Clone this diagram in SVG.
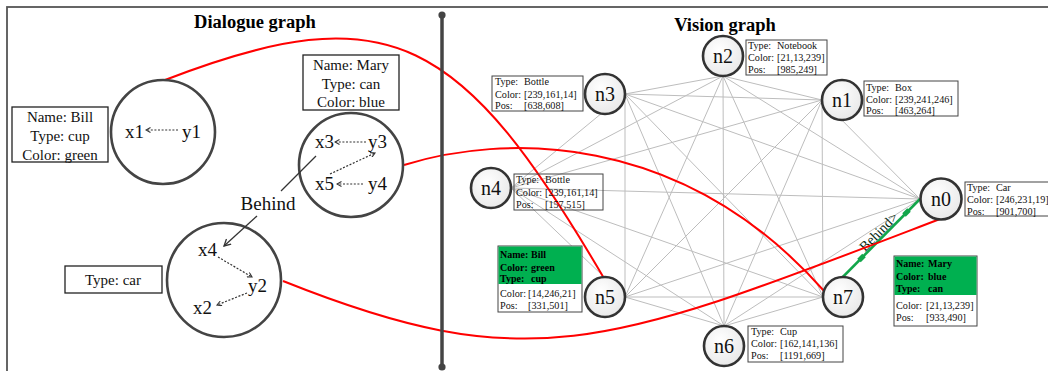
<svg xmlns="http://www.w3.org/2000/svg" width="1048" height="371" viewBox="0 0 1048 371">
  <style>
    .title { font-family: "Liberation Serif", serif; font-weight: bold; font-size: 18.5px; fill: #000; text-anchor: middle; }
    .var { font-family: "Liberation Serif", serif; font-size: 19px; fill: #111; }
    .attr { font-family: "Liberation Serif", serif; font-size: 15px; fill: #111; text-anchor: middle; }
    .info { font-family: "Liberation Serif", serif; font-size: 10.2px; fill: #111; }
    .infob { font-family: "Liberation Serif", serif; font-size: 10px; font-weight: bold; fill: #000; }
    .rel { font-family: "Liberation Serif", serif; font-size: 14px; fill: #0b2a14; text-anchor: middle; }
    .nlabel { font-family: "Liberation Serif", serif; font-size: 20px; fill: #111; text-anchor: middle; }
    .bigc { fill: #fff; stroke: #444; stroke-width: 2.6; }
    .node { fill: url(#nodeFill); stroke: #333; stroke-width: 2.6; }
    .box { fill: #fff; stroke: #222; stroke-width: 1.3; }
    .ibox { fill: #fff; stroke: #444; stroke-width: 1; }
    .ibox-clear { fill: none; stroke: #444; stroke-width: 1; }
    .dot { fill: none; stroke: #333; stroke-width: 1.2; stroke-dasharray: 2 1.6; marker-end: url(#chev); }
    .edge { stroke: #bdbdbd; stroke-width: 1; }
    .link { fill: none; stroke: #ff0000; stroke-width: 2; }
  </style>
  <defs>
    <radialGradient id="nodeFill" cx="0.4" cy="0.35" r="0.75">
      <stop offset="0" stop-color="#ffffff"/>
      <stop offset="1" stop-color="#e6e6e6"/>
    </radialGradient>
    <marker id="chev" viewBox="0 0 6 6" refX="5" refY="3" markerWidth="6" markerHeight="6" markerUnits="userSpaceOnUse" orient="auto">
      <path d="M0.5,0.5 L5,3 L0.5,5.5" fill="none" stroke="#333" stroke-width="1.1"/>
    </marker>
    <marker id="chevBig" viewBox="0 0 8 8" refX="7" refY="4" markerWidth="8" markerHeight="8" markerUnits="userSpaceOnUse" orient="auto">
      <path d="M0.5,0.5 L7,4 L0.5,7.5" fill="none" stroke="#333" stroke-width="1.3"/>
    </marker>
  </defs>

  <rect width="1048" height="371" fill="#fff"/>
  <!-- outer frame (runs off the right and bottom edges) -->
  <rect x="7" y="7" width="1100" height="400" fill="none" stroke="#555" stroke-width="1.8"/>

  <text class="title" x="255" y="28">Dialogue graph</text>
  <text class="title" x="725" y="31">Vision graph</text>

  <!-- complete graph between object nodes (drawn on ports, circles cover the ends) -->
  <g id="vision-edges">
    <!-- ports: n2 (723,76) n3 (625,94) n1 (822,100) n4 (511,188) n0 (920,199) n5 (625,297) n7 (823,297) n6 (724,326) -->
    <line class="edge" x1="723" y1="76" x2="625" y2="94"/>
    <line class="edge" x1="723" y1="76" x2="822" y2="100"/>
    <line class="edge" x1="723" y1="76" x2="511" y2="188"/>
    <line class="edge" x1="723" y1="76" x2="920" y2="199"/>
    <line class="edge" x1="723" y1="76" x2="625" y2="297"/>
    <line class="edge" x1="723" y1="76" x2="823" y2="297"/>
    <line class="edge" x1="723" y1="76" x2="724" y2="326"/>
    <line class="edge" x1="625" y1="94" x2="822" y2="100"/>
    <line class="edge" x1="625" y1="94" x2="511" y2="188"/>
    <line class="edge" x1="625" y1="94" x2="920" y2="199"/>
    <line class="edge" x1="625" y1="94" x2="625" y2="297"/>
    <line class="edge" x1="625" y1="94" x2="823" y2="297"/>
    <line class="edge" x1="625" y1="94" x2="724" y2="326"/>
    <line class="edge" x1="822" y1="100" x2="511" y2="188"/>
    <line class="edge" x1="822" y1="100" x2="920" y2="199"/>
    <line class="edge" x1="822" y1="100" x2="625" y2="297"/>
    <line class="edge" x1="822" y1="100" x2="823" y2="297"/>
    <line class="edge" x1="822" y1="100" x2="724" y2="326"/>
    <line class="edge" x1="511" y1="188" x2="920" y2="199"/>
    <line class="edge" x1="511" y1="188" x2="625" y2="297"/>
    <line class="edge" x1="511" y1="188" x2="823" y2="297"/>
    <line class="edge" x1="511" y1="188" x2="724" y2="326"/>
    <line class="edge" x1="920" y1="199" x2="625" y2="297"/>
    <line class="edge" x1="920" y1="199" x2="724" y2="326"/>
    <line class="edge" x1="625" y1="297" x2="823" y2="297"/>
    <line class="edge" x1="625" y1="297" x2="724" y2="326"/>
    <line class="edge" x1="823" y1="297" x2="724" y2="326"/>
    <!-- relation edge n7 -> n0 -->
    <line x1="823" y1="297" x2="920" y2="199" stroke="#12a64a" stroke-width="2.6"/>
    <line x1="859" y1="260.5" x2="864" y2="255.5" stroke="#12a64a" stroke-width="5"/>
    <line x1="904" y1="215" x2="909" y2="210" stroke="#12a64a" stroke-width="5"/>
    <text class="rel" transform="translate(882,235) rotate(-45.3)">Behind&gt;</text>
  </g>

  <!-- grounding links between dialogue entities and object nodes -->
  <g id="grounding-links">
    <path class="link" d="M165,80 C390,-7 462,35 605,280"/>
    <path class="link" d="M404,165 C500,135 680,128 825,292"/>
    <path class="link" d="M283,281 C533,381 611,345 940,219"/>
  </g>

  <!-- dialogue entities -->
  <g id="entity-bill">
    <rect class="box" x="12" y="107" width="96" height="55"/>
    <text class="attr" x="60" y="122">Name: Bill</text>
    <text class="attr" x="60" y="141">Type: cup</text>
    <text class="attr" x="60" y="160">Color: green</text>
    <circle class="bigc" cx="163" cy="132" r="52"/>
    <text class="var" x="125" y="138">x1</text>
    <text class="var" x="182" y="138">y1</text>
    <line class="dot" x1="178" y1="130" x2="146" y2="130"/>
  </g>

  <g id="entity-mary">
    <rect class="box" x="303" y="55" width="96" height="55"/>
    <text class="attr" x="351" y="70">Name: Mary</text>
    <text class="attr" x="351" y="89">Type: can</text>
    <text class="attr" x="351" y="107">Color: blue</text>
    <circle class="bigc" cx="351" cy="165" r="52"/>
    <text class="var" x="315" y="148">x3</text>
    <text class="var" x="368" y="148">y3</text>
    <text class="var" x="315" y="190">x5</text>
    <text class="var" x="368" y="190">y4</text>
    <line class="dot" x1="366" y1="142" x2="335" y2="142"/>
    <line class="dot" x1="363" y1="184" x2="337" y2="184"/>
    <line class="dot" x1="330" y1="174" x2="375" y2="153"/>
  </g>

  <g id="entity-car">
    <rect class="box" x="65" y="266" width="97" height="27"/>
    <text class="attr" x="113" y="285">Type: car</text>
    <circle class="bigc" cx="224" cy="280" r="57"/>
    <text class="var" x="198" y="256">x4</text>
    <text class="var" x="248" y="292">y2</text>
    <text class="var" x="193" y="314">x2</text>
    <line class="dot" x1="218" y1="257" x2="252" y2="277"/>
    <line class="dot" x1="247" y1="293" x2="217" y2="305"/>
  </g>

  <g id="relation-behind">
    <line x1="281" y1="191" x2="316" y2="156" stroke="#333" stroke-width="1.3"/>
    <text class="var" x="268" y="210" text-anchor="middle" font-size="18.5">Behind</text>
    <line x1="257" y1="216" x2="224" y2="246" stroke="#333" stroke-width="1.3" marker-end="url(#chevBig)"/>
  </g>

  <!-- panel divider -->
  <g id="divider">
    <line x1="442" y1="15" x2="442" y2="367" stroke="#444" stroke-width="3.5"/>
    <circle cx="442" cy="15" r="3.6" fill="#444"/>
    <circle cx="442" cy="367" r="3.6" fill="#444"/>
  </g>

  <!-- object nodes -->
  <g id="n2">
    <circle class="node" cx="723" cy="56" r="20"/>
    <text class="nlabel" x="723" y="63">n2</text>
    <rect class="ibox" x="746" y="40" width="81" height="35"/>
    <text class="info" y="49"><tspan x="748">Type:</tspan><tspan x="777">Notebook</tspan></text>
    <text class="info" y="61"><tspan x="748">Color:</tspan><tspan x="777">[21,13,239]</tspan></text>
    <text class="info" y="73"><tspan x="748">Pos:</tspan><tspan x="777">[985,249]</tspan></text>
  </g>

  <g id="n3">
    <circle class="node" cx="605" cy="94" r="20"/>
    <text class="nlabel" x="605" y="101">n3</text>
    <rect class="ibox" x="492" y="76" width="91" height="35"/>
    <text class="info" y="85"><tspan x="495">Type:</tspan><tspan x="524">Bottle</tspan></text>
    <text class="info" y="98"><tspan x="495">Color:</tspan><tspan x="524">[239,161,14]</tspan></text>
    <text class="info" y="109"><tspan x="495">Pos:</tspan><tspan x="524">[638,608]</tspan></text>
  </g>

  <g id="n1">
    <circle class="node" cx="842" cy="100" r="20"/>
    <text class="nlabel" x="842" y="107">n1</text>
    <rect class="ibox" x="864" y="81" width="94" height="35"/>
    <text class="info" y="91"><tspan x="866">Type:</tspan><tspan x="895">Box</tspan></text>
    <text class="info" y="103"><tspan x="866">Color:</tspan><tspan x="895">[239,241,246]</tspan></text>
    <text class="info" y="114"><tspan x="866">Pos:</tspan><tspan x="895">[463,264]</tspan></text>
  </g>

  <g id="n4">
    <circle class="node" cx="491" cy="188" r="20"/>
    <text class="nlabel" x="491" y="195">n4</text>
    <rect class="ibox-clear" x="514" y="174" width="89" height="36"/>
    <text class="info" y="183"><tspan x="516">Type:</tspan><tspan x="545">Bottle</tspan></text>
    <text class="info" y="196"><tspan x="516">Color:</tspan><tspan x="545">[239,161,14]</tspan></text>
    <text class="info" y="208"><tspan x="516">Pos:</tspan><tspan x="545">[157,515]</tspan></text>
  </g>

  <g id="n0">
    <circle class="node" cx="941" cy="199" r="20.5"/>
    <text class="nlabel" x="941" y="206">n0</text>
    <rect class="ibox" x="965" y="182" width="100" height="34"/>
    <text class="info" y="191"><tspan x="967">Type:</tspan><tspan x="996">Car</tspan></text>
    <text class="info" y="203"><tspan x="967">Color:</tspan><tspan x="996">[246,231,19]</tspan></text>
    <text class="info" y="215"><tspan x="967">Pos:</tspan><tspan x="996">[901,700]</tspan></text>
  </g>

  <g id="n5">
    <circle class="node" cx="605" cy="297" r="20"/>
    <text class="nlabel" x="605" y="304">n5</text>
    <rect class="ibox" x="498" y="246" width="84" height="66"/>
    <rect x="498.5" y="246.5" width="83" height="37.5" fill="#00b050"/>
    <text class="infob" y="258"><tspan x="500">Name:</tspan><tspan x="531">Bill</tspan></text>
    <text class="infob" y="270.5"><tspan x="500">Color:</tspan><tspan x="531">green</tspan></text>
    <text class="infob" y="282"><tspan x="500">Type:</tspan><tspan x="531">cup</tspan></text>
    <text class="info" y="297"><tspan x="500">Color:</tspan><tspan x="528">[14,246,21]</tspan></text>
    <text class="info" y="309"><tspan x="500">Pos:</tspan><tspan x="528">[331,501]</tspan></text>
  </g>

  <g id="n7">
    <circle class="node" cx="843" cy="297" r="20"/>
    <text class="nlabel" x="843" y="304">n7</text>
    <rect class="ibox" x="894" y="256" width="83" height="70"/>
    <rect x="894.5" y="256.5" width="82" height="38.5" fill="#00b050"/>
    <text class="infob" y="267"><tspan x="896">Name:</tspan><tspan x="928">Mary</tspan></text>
    <text class="infob" y="280"><tspan x="896">Color:</tspan><tspan x="928">blue</tspan></text>
    <text class="infob" y="292"><tspan x="896">Type:</tspan><tspan x="928">can</tspan></text>
    <text class="info" y="309"><tspan x="896">Color:</tspan><tspan x="926">[21,13,239]</tspan></text>
    <text class="info" y="321"><tspan x="896">Pos:</tspan><tspan x="926">[933,490]</tspan></text>
  </g>

  <g id="n6">
    <circle class="node" cx="724" cy="346" r="20"/>
    <text class="nlabel" x="724" y="353">n6</text>
    <rect class="ibox" x="748" y="326" width="95" height="36"/>
    <text class="info" y="335"><tspan x="751">Type:</tspan><tspan x="780">Cup</tspan></text>
    <text class="info" y="347"><tspan x="751">Color:</tspan><tspan x="780">[162,141,136]</tspan></text>
    <text class="info" y="359"><tspan x="751">Pos:</tspan><tspan x="780">[1191,669]</tspan></text>
  </g>
</svg>
